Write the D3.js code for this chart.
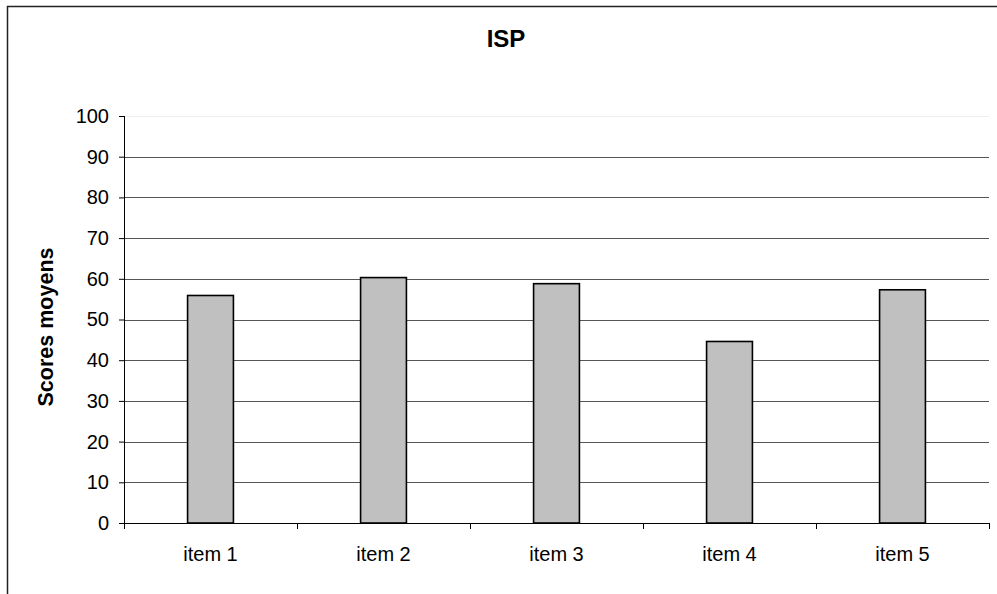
<!DOCTYPE html>
<html>
<head>
<meta charset="utf-8">
<script src="https://cdn.jsdelivr.net/npm/d3@7"></script>
<style>
  body { margin: 0; background: #fff; }
  svg text { font-family: "Liberation Sans", Arial, sans-serif; fill: #000; }
</style>
</head>
<body>
<div id="chart"></div>
<script>
// data
const items = ["item 1", "item 2", "item 3", "item 4", "item 5"];
const scores = [55.9, 60.3, 58.8, 44.6, 57.3];
const yTicks = [0, 10, 20, 30, 40, 50, 60, 70, 80, 90, 100];

const width = 997;
const height = 594;
const marginLeft = 124;
const marginRight = 8;
const marginTop = 116;
const marginBottom = 71;
const chartWidth = width - marginLeft - marginRight;
const chartHeight = height - marginTop - marginBottom;

const svg = d3.select("#chart")
  .append("svg")
  .attr("width", width)
  .attr("height", height);

// outer frame (runs off the right and bottom of the picture)
svg.append("rect")
  .attr("x", 7.5)
  .attr("y", 6.5)
  .attr("width", 1000)
  .attr("height", 600)
  .attr("fill", "none")
  .attr("stroke", "#222")
  .attr("stroke-width", 1.5);

// title
svg.append("text")
  .attr("x", 506)
  .attr("y", 47)
  .attr("text-anchor", "middle")
  .attr("font-weight", "bold")
  .attr("font-size", 24)
  .text("ISP");

const xScale = d3.scaleBand()
  .domain(items)
  .range([0, chartWidth])
  .paddingInner(0.735)
  .paddingOuter(0.3675);

const yScale = d3.scaleLinear()
  .domain([0, 100])
  .range([chartHeight, 0]);

const g = svg.append("g")
  .attr("transform", `translate(${marginLeft},${marginTop})`);

// gridlines
g.append("g")
  .selectAll("line")
  .data(yTicks.filter((d) => d > 0))
  .join("line")
  .attr("x1", 0)
  .attr("x2", chartWidth)
  .attr("y1", (d) => Math.round(yScale(d)) + 0.5)
  .attr("y2", (d) => Math.round(yScale(d)) + 0.5)
  .attr("stroke", (d) => (d === 100 ? "#eee" : "#555"))
  .attr("stroke-width", 1);

// bars
g.append("g")
  .selectAll("rect")
  .data(scores)
  .join("rect")
  .attr("x", (d, i) => xScale(items[i]))
  .attr("y", (d) => yScale(d))
  .attr("width", xScale.bandwidth())
  .attr("height", (d) => chartHeight - yScale(d))
  .attr("fill", "#c0c0c0")
  .attr("stroke", "#000")
  .attr("stroke-width", 1.6);

// y axis
const yaxis = d3.axisLeft(yScale)
  .tickValues(yTicks)
  .tickSize(5)
  .tickPadding(10);

g.append("g")
  .attr("class", "axis")
  .call(yaxis)
  .call((a) => a.select(".domain").attr("stroke", "#000").attr("d", `M0.5,0V${chartHeight}`))
  .call((a) => a.selectAll("text").attr("font-size", 20).attr("font-family", "Liberation Sans, Arial, sans-serif"));

// x axis with ticks at the category boundaries
const bounds = d3.range(items.length + 1).map((i) => (i * chartWidth) / items.length);

const xg = g.append("g")
  .attr("transform", `translate(0,${chartHeight})`);

xg.append("line")
  .attr("x1", 0)
  .attr("x2", chartWidth)
  .attr("y1", 0.5)
  .attr("y2", 0.5)
  .attr("stroke", "#000")
  .attr("stroke-width", 1.2);

xg.selectAll(".tick")
  .data(bounds)
  .join("line")
  .attr("class", "tick")
  .attr("x1", (d) => Math.round(d) + 0.5)
  .attr("x2", (d) => Math.round(d) + 0.5)
  .attr("y1", 0)
  .attr("y2", 6)
  .attr("stroke", "#000");

xg.selectAll(".label")
  .data(items)
  .join("text")
  .attr("class", "label")
  .attr("x", (d) => xScale(d) + xScale.bandwidth() / 2)
  .attr("y", 38)
  .attr("text-anchor", "middle")
  .attr("font-size", 20)
  .text((d) => d);

// y axis label
svg.append("text")
  .attr("transform", `translate(53, 327) rotate(-90)`)
  .attr("text-anchor", "middle")
  .attr("font-weight", "bold")
  .attr("font-size", 21.5)
  .text("Scores moyens");
</script>
</body>
</html>
